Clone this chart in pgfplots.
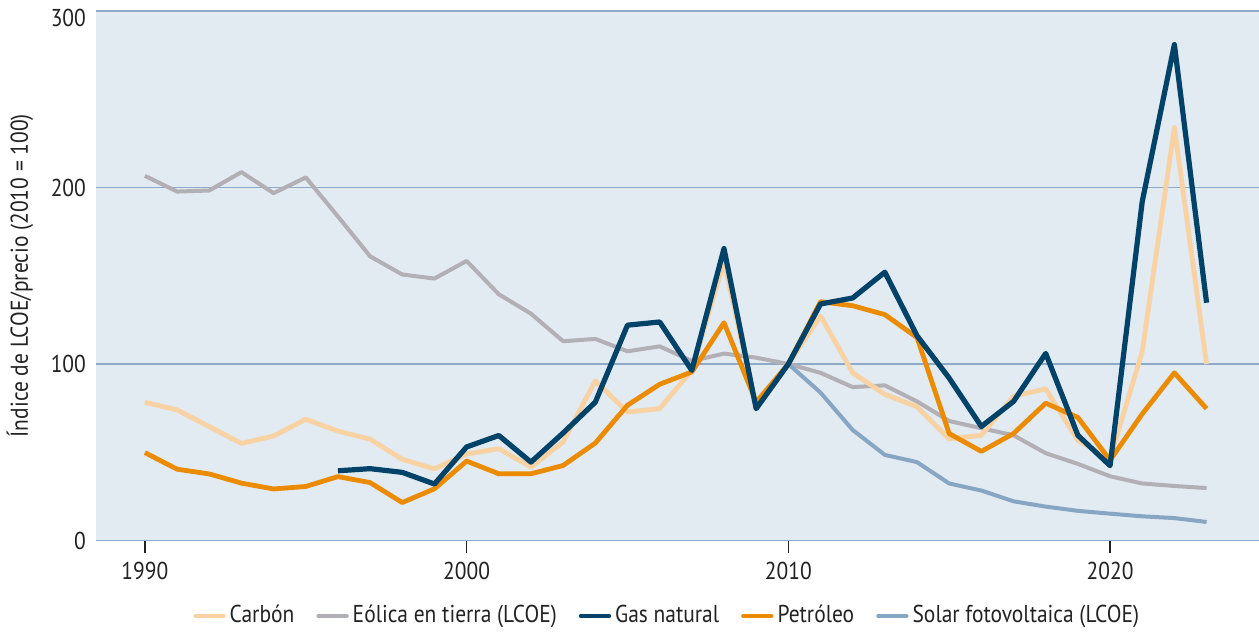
\documentclass[border=0pt]{standalone}
\usepackage{pgfplots}
\pgfplotsset{compat=1.18}
\usepackage{fontspec}
\setmainfont{PT Sans}[FakeStretch=0.88]
\definecolor{bgcol}{HTML}{E2EAF2}
\definecolor{gridcol}{HTML}{8FAAC9}
\definecolor{carbon}{HTML}{F8D2A2}
\definecolor{eolica}{HTML}{B2AFB5}
\definecolor{gas}{HTML}{004268}
\definecolor{petroleo}{HTML}{EA8B00}
\definecolor{solar}{HTML}{87A6C4}
\definecolor{txt}{HTML}{222222}
\begin{document}
\fontsize{12.2bp}{14bp}\selectfont
\begin{tikzpicture}
\useasboundingbox (0,0) rectangle (629.5bp,316bp);
\begin{axis}[
  at={(48bp,45.75bp)}, anchor=south west,
  scale only axis, width=581.5bp, height=264.75bp,
  xmin=1988.48, xmax=2024.63, ymin=0, ymax=300,
  axis background/.style={fill=bgcol},
  axis line style={draw=none},
  ymajorgrids, grid style={gridcol, line width=0.7bp},
  xtick={1990,2000,2010,2020}, ytick={0,100,200},
  extra y ticks={300},
  extra y tick style={grid=major, yticklabel style={yshift=-3.5bp}},
  xtick pos=bottom, ytick pos=left,
  tick align=outside, major tick length=6.3bp,
  xtick style={draw=txt, line width=0.6bp},
  ytick style={draw=none},
  xticklabel style={/pgf/number format/set thousands separator={}, text=txt},
  yticklabel style={text=txt, xshift=5.5bp},
  /pgf/number format/assume math mode=true,
  ylabel={Índice de LCOE/precio (2010 = 100)},
  ylabel style={at={(axis description cs:-0.0654,0.5)}, anchor=center, text=txt},
  legend columns=5,
  legend style={draw=none, fill=none, at={(axis description cs:0.492,-0.1426)}, anchor=center, text=txt,
    /tikz/every even column/.append style={column sep=9bp}},
  legend image code/.code={\draw[#1, line cap=round] (0bp,0bp) -- (14bp,0bp);},
  every axis plot/.append style={line join=round},
]
\addplot[eolica, line width=2bp, forget plot] coordinates {
(1990,206.6)(1991,197.7)(1992,198.3)(1993,208.7)(1994,196.8)(1995,205.7)(1996,183.6)(1997,161)(1998,150.7)(1999,148.4)
(2000,158.4)(2001,139.5)(2002,128.5)(2003,112.9)(2004,114.2)(2005,107.2)(2006,110)(2007,101.7)(2008,105.9)(2009,103.6)
(2010,100)(2011,95)(2012,86.9)(2013,87.9)(2014,78.8)(2015,67.7)(2016,63.6)(2017,59.6)(2018,49.5)(2019,43.4)
(2020,36.4)(2021,32.3)(2022,30.9)(2023,29.7)};
\addplot[solar, line width=2bp, forget plot] coordinates {
(2010,100)(2011,83.8)(2012,62.6)(2013,48.5)(2014,44.4)(2015,32.3)(2016,28.3)(2017,22.2)(2018,19.2)(2019,16.8)
(2020,15.2)(2021,13.7)(2022,12.7)(2023,10.5)};
\addplot[carbon, line width=2.4bp, forget plot] coordinates {
(1990,78.3)(1991,74)(1992,64.5)(1993,55)(1994,59.2)(1995,68.7)(1996,62)(1997,57.4)(1998,46)(1999,40.6)
(2000,49)(2001,52)(2002,41.6)(2003,55.8)(2004,90.4)(2005,72.8)(2006,74.7)(2007,96.4)(2008,158)(2009,76)
(2010,100)(2011,127.3)(2012,95)(2013,82.8)(2014,75.8)(2015,57.6)(2016,59.6)(2017,81.8)(2018,85.9)(2019,56.6)
(2020,46.5)(2021,107)(2022,234)(2023,100)};
\addplot[petroleo, line width=2.4bp, forget plot] coordinates {
(1990,49.8)(1991,40.4)(1992,37.7)(1993,32.5)(1994,29.2)(1995,30.6)(1996,36.2)(1997,32.8)(1998,21.5)(1999,29.3)
(2000,45)(2001,37.8)(2002,37.8)(2003,42.5)(2004,55.2)(2005,76.6)(2006,88.5)(2007,95.5)(2008,123.4)(2009,78.4)
(2010,100)(2011,135.3)(2012,133)(2013,128)(2014,115)(2015,60.6)(2016,50.5)(2017,60.6)(2018,77.8)(2019,69.7)
(2020,45.5)(2021,71.7)(2022,95)(2023,74.7)};
\addplot[gas, line width=2.6bp, forget plot] coordinates {
(1996,39.5)(1997,40.7)(1998,38.6)(1999,32)
(2000,53)(2001,59.5)(2002,44.4)(2003,60.9)(2004,78.4)(2005,122)(2006,123.8)(2007,96.4)(2008,165.4)(2009,74.7)
(2010,100)(2011,134)(2012,137.4)(2013,152)(2014,116)(2015,92)(2016,64.6)(2017,78.8)(2018,106)(2019,59.6)
(2020,42.4)(2021,192)(2022,281)(2023,134.7)};
\addlegendimage{carbon, line width=2.2bp}\addlegendentry{Carbón}
\addlegendimage{eolica, line width=2.2bp}\addlegendentry{Eólica en tierra (LCOE)}
\addlegendimage{gas, line width=2.2bp}\addlegendentry{Gas natural}
\addlegendimage{petroleo, line width=2.2bp}\addlegendentry{Petróleo}
\addlegendimage{solar, line width=2.2bp}\addlegendentry{Solar fotovoltaica (LCOE)}
\end{axis}
\end{tikzpicture}
\end{document}
